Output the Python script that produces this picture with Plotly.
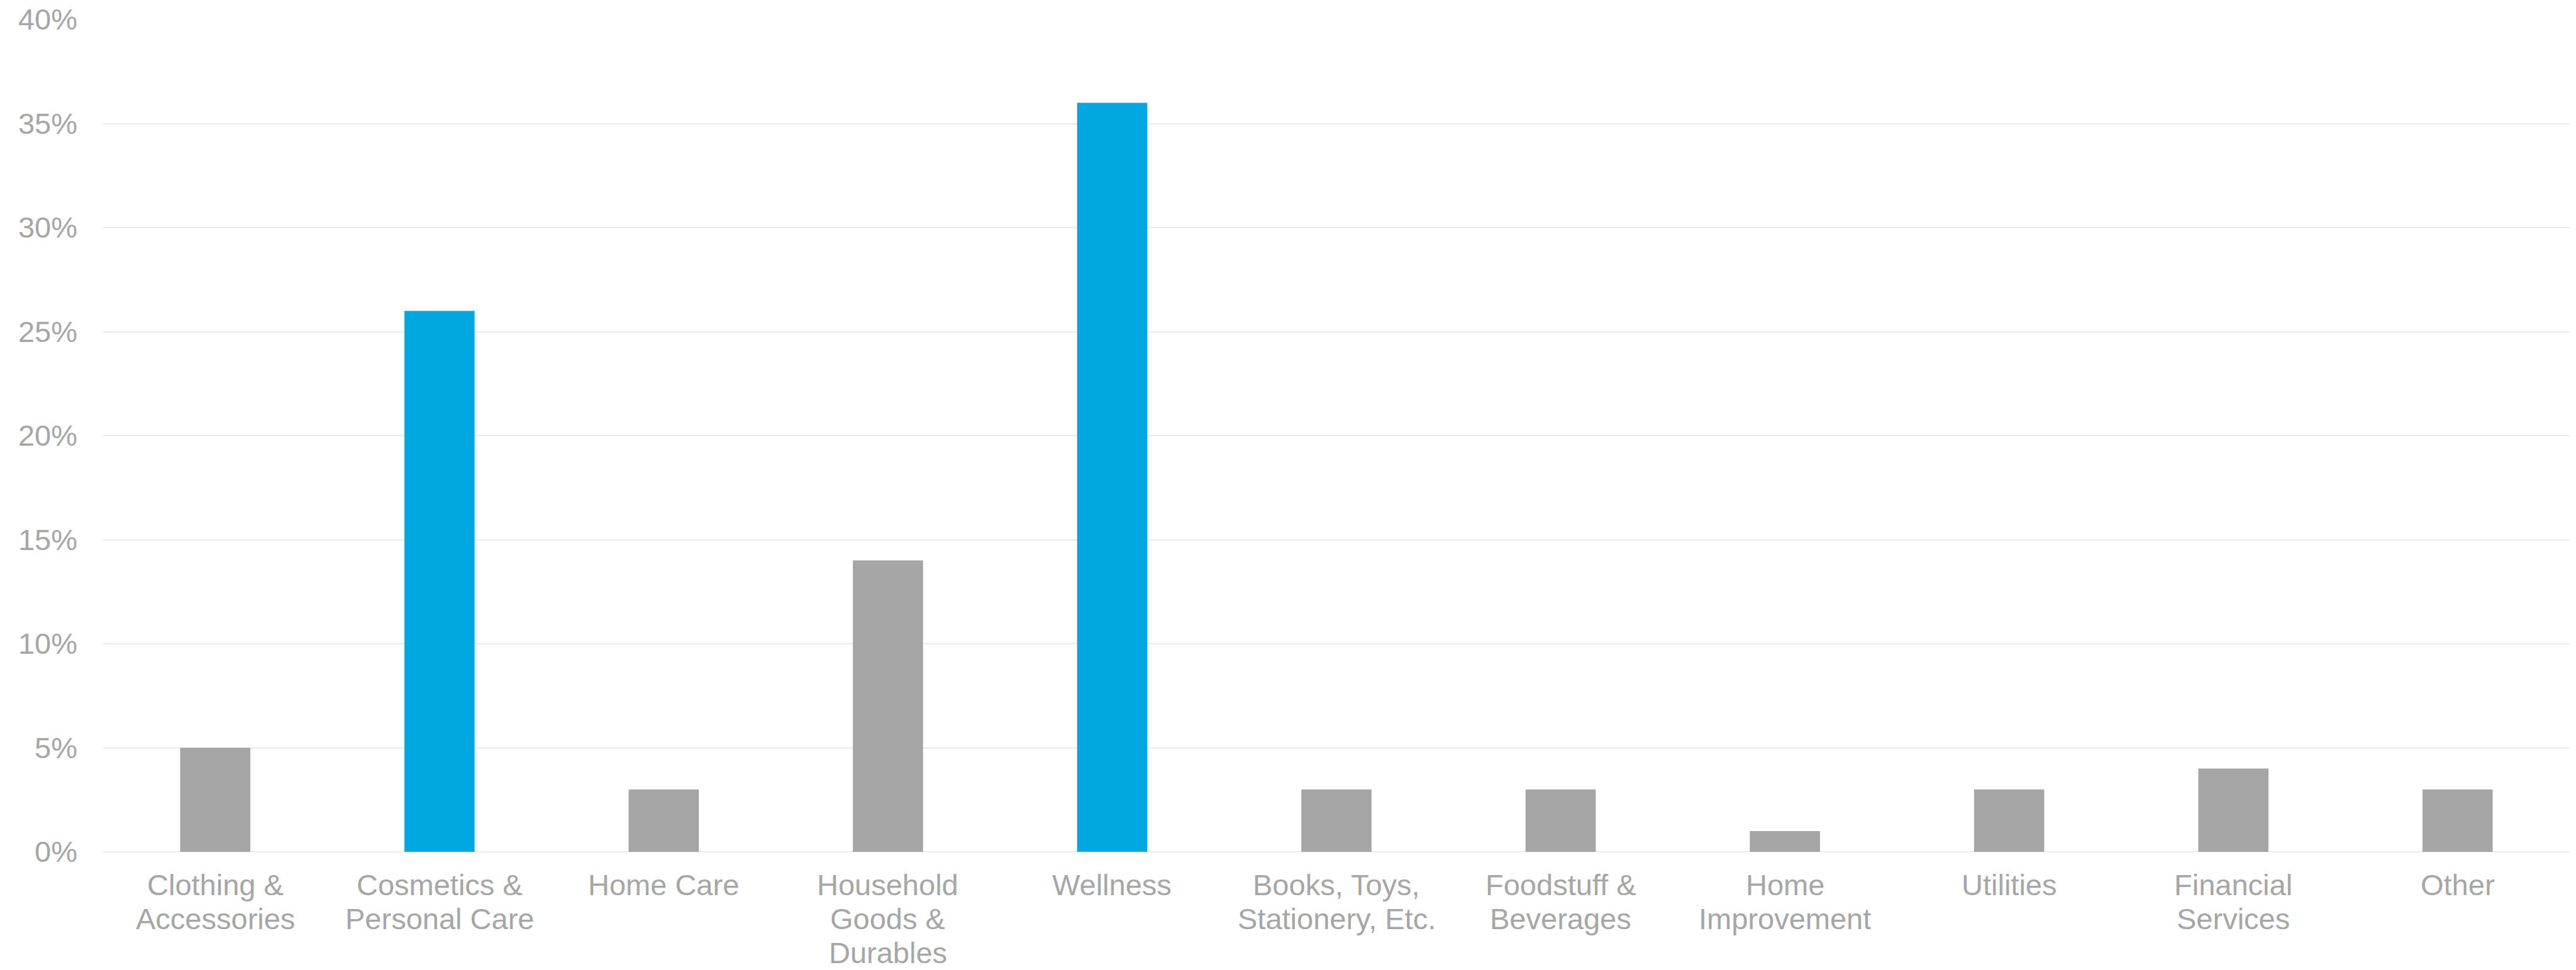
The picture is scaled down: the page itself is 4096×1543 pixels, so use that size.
import plotly.graph_objects as go

categories = [
    "Clothing & Accessories",
    "Cosmetics & Personal Care",
    "Home Care",
    "Household Goods & Durables",
    "Wellness",
    "Books, Toys, Stationery, Etc.",
    "Foodstuff & Beverages",
    "Home Improvement",
    "Utilities",
    "Financial Services",
    "Other",
]
# wrapped label lines, as shown under each bar
label_lines = [
    ["Clothing &", "Accessories"],
    ["Cosmetics &", "Personal Care"],
    ["Home Care"],
    ["Household", "Goods &", "Durables"],
    ["Wellness"],
    ["Books, Toys,", "Stationery, Etc."],
    ["Foodstuff &", "Beverages"],
    ["Home", "Improvement"],
    ["Utilities"],
    ["Financial", "Services"],
    ["Other"],
]
values = [5, 26, 3, 14, 36, 3, 3, 1, 3, 4, 3]
highlight = [False, True, False, False, True, False, False, False, False, False, False]

GRAY = "#A5A5A5"
BLUE = "#00A7E1"
colors = [BLUE if h else GRAY for h in highlight]

y_ticks = [0, 5, 10, 15, 20, 25, 30, 35, 40]
y_ticktext = [f"{v}%" for v in y_ticks]

fig = go.Figure(
    go.Bar(x=categories, y=values, marker=dict(color=colors, line=dict(width=0)))
)

font = dict(family="Liberation Sans, Arial, sans-serif", size=47, color="#A6A6A6")

LINE_GAP = 54
FIRST_OFFSET = 24
for cat, lines in zip(categories, label_lines):
    for i, line in enumerate(lines):
        fig.add_annotation(
            x=cat, y=0, xref="x", yref="y",
            text=line, showarrow=False,
            xanchor="center", yanchor="top",
            yshift=-(FIRST_OFFSET + i * LINE_GAP),
            font=font,
        )

fig.update_layout(
    width=4096,
    height=1543,
    margin=dict(l=164, r=10, t=31, b=188, autoexpand=False),
    paper_bgcolor="white",
    plot_bgcolor="white",
    bargap=0.687,
    showlegend=False,
    font=font,
)
fig.update_xaxes(
    showgrid=False,
    showline=False,
    ticks="",
    showticklabels=False,
)
fig.update_yaxes(
    range=[0, 40],
    tickvals=y_ticks,
    ticktext=y_ticktext,
    showgrid=True,
    gridcolor="#EBEBEB",
    gridwidth=2,
    zeroline=True,
    zerolinecolor="#EBEBEB",
    zerolinewidth=2,
    showline=False,
    ticks="",
    tickfont=font,
    ticklabelstandoff=40,
)

fig.write_html("out.html")
